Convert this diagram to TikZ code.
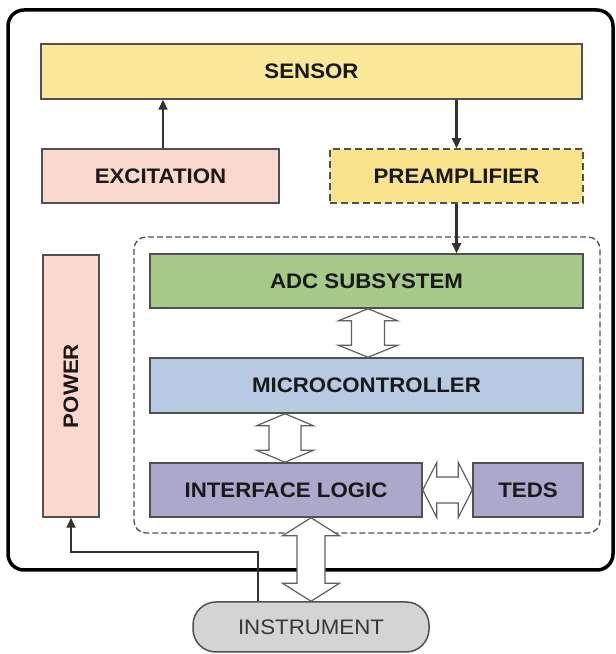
\documentclass[tikz,border=0pt]{standalone}
\usepackage{fontspec}
\setmainfont{Liberation Sans}[FakeStretch=1.06]
\usetikzlibrary{arrows.meta,calc}
\definecolor{sensorfill}{RGB}{250,232,155}
\definecolor{preampfill}{RGB}{249,227,140}
\definecolor{excfill}{RGB}{250,216,205}
\definecolor{adcfill}{RGB}{166,202,135}
\definecolor{mcufill}{RGB}{183,202,225}
\definecolor{iffill}{RGB}{172,168,203}
\definecolor{instfill}{RGB}{212,212,212}
\definecolor{boxline}{RGB}{80,80,80}
\definecolor{arrline}{RGB}{50,50,50}
\definecolor{txt}{RGB}{25,25,25}
\definecolor{insttxt}{RGB}{55,55,55}
\definecolor{fatline}{RGB}{95,95,95}
\newcommand{\fatV}[5]{% top, bottom, shaft half width, head half width, head length
  \draw[fat] let \p1=(#1), \p2=(#2) in
    (\p1) -- ++(#4,-#5) -- ++({#3-#4},0) -- ({\x1+#3pt},{\y2+#5pt}) -- ++({#4-#3},0)
    -- (\x1,\y2) -- ++(-#4,#5) -- ++({#4-#3},0) -- ({\x1-#3pt},{\y1-#5pt}) -- ++({#3-#4},0) -- cycle;}
\newcommand{\fatH}[5]{% left, right, shaft half width, head half width, head length
  \draw[fat] let \p1=(#1), \p2=(#2) in
    (\p1) -- ++(#5,#4) -- ++(0,{#3-#4}) -- ({\x2-#5pt},{\y1+#3pt}) -- ++(0,{#4-#3})
    -- (\x2,\y1) -- ++(-#5,-#4) -- ++(0,{#4-#3}) -- ({\x1+#5pt},{\y1-#3pt}) -- ++(0,{#3-#4}) -- cycle;}
\begin{document}
\begin{tikzpicture}[x=1pt,y=1pt,
  blk/.style={draw=boxline, line width=1.5pt, inner sep=0pt, text=txt,
    font=\bfseries\fontsize{21}{25}\selectfont},
  thinarr/.style={draw=arrline, line width=2.2pt, -{Triangle[length=10pt,width=9pt]}},
  fat/.style={draw=fatline, line width=1.2pt, fill=white, line join=miter},
  outerbox/.style={draw=black, line width=3.5pt, rounded corners=16pt},
  group/.style={draw=boxline, line width=1.3pt, dashed, dash pattern=on 6pt off 3pt, rounded corners=12pt}]
\useasboundingbox (0,0) rectangle (616,654);
\fill[white] (0,0) rectangle (616,654);

\draw[outerbox] (8,644) rectangle (613,84);
\draw[group] (134,417) rectangle (600,121);

\node[blk, fill=sensorfill, minimum width=541pt, minimum height=55pt] (sensor) at (311.5,582.5) {SENSOR};
\node[blk, fill=excfill, minimum width=237pt, minimum height=54pt] (exc) at (160.5,478) {EXCITATION};
\node[blk, fill=preampfill, minimum width=253pt, minimum height=54pt, dashed, dash pattern=on 7pt off 4pt] (pre) at (456.5,478) {PREAMPLIFIER};
\node[blk, fill=adcfill, minimum width=433pt, minimum height=54pt] (adc) at (366.5,373) {ADC SUBSYSTEM};
\node[blk, fill=mcufill, minimum width=433pt, minimum height=55pt] (mcu) at (366.5,268.5) {MICROCONTROLLER};
\node[blk, fill=iffill, minimum width=272pt, minimum height=54pt] (if) at (286,164) {INTERFACE LOGIC};
\node[blk, fill=iffill, minimum width=110pt, minimum height=54pt] (teds) at (528,164) {TEDS};
\node[blk, fill=excfill, minimum width=56pt, minimum height=262pt] (power) at (71,268) {\rotatebox{90}{POWER}};
\node[draw=boxline, line width=1.5pt, fill=instfill, rounded corners=23pt, minimum width=236pt, minimum height=50pt,
  inner sep=0pt, text=insttxt, font=\fontsize{21}{25}\selectfont] (inst) at (311,27) {INSTRUMENT};

\draw[thinarr] (163,0 |- exc.north) -- (163,0 |- sensor.south);
\draw[thinarr] (456.5,0 |- sensor.south) -- (456.5,0 |- pre.north);
\draw[thinarr] (456.5,0 |- pre.south) -- (456.5,0 |- adc.north);
\coordinate (pbend) at (258,102);
\draw[thinarr] (inst.north -| pbend) -- (pbend) -| (power.south);

\fatV{368,0 |- adc.south}{368,0 |- mcu.north}{16.5}{29.5}{12}
\fatV{285,0 |- mcu.south}{285,0 |- if.north}{16}{28.5}{12}
\fatH{if.east}{teds.west}{13}{27.5}{14}
\fatV{311,0 |- if.south}{311,0 |- inst.north}{14}{28.5}{18}
\end{tikzpicture}
\end{document}
